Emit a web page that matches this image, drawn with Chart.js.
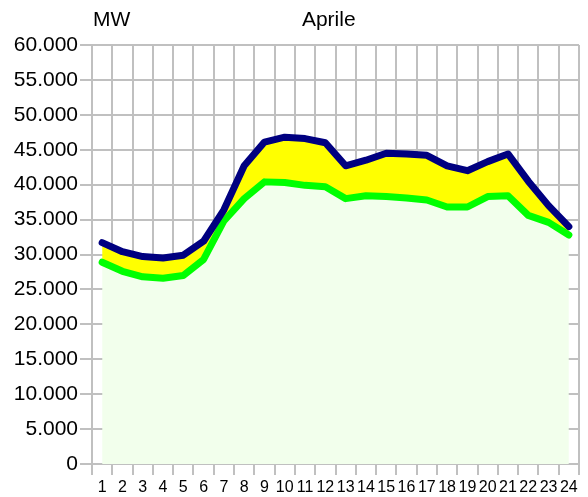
<!DOCTYPE html>
<html>
<head>
<meta charset="utf-8">
<script src="https://cdn.jsdelivr.net/npm/chart.js@4/dist/chart.umd.min.js"></script>
<style>
  html, body { margin: 0; padding: 0; background: #ffffff; }
  #wrap { width: 588px; height: 497px; position: relative; }
</style>
</head>
<body>
<div id="wrap"><canvas id="c" width="588" height="497"></canvas></div>
<script>
// Hours of the day (category labels)
const hours = ['1','2','3','4','5','6','7','8','9','10','11','12','13','14','15','16','17','18','19','20','21','22','23','24'];

// Upper series (navy line)
const upperMW = [31700, 30400, 29700, 29500, 29900, 31900, 36400, 42700, 46100, 46800, 46600, 46000,
                 42700, 43500, 44500, 44400, 44200, 42700, 42000, 43300, 44400, 40500, 37000, 34000];

// Lower series (green line)
const lowerMW = [28900, 27600, 26800, 26600, 27000, 29300, 34800, 38000, 40400, 40300, 39900, 39700,
                 38000, 38400, 38300, 38100, 37800, 36800, 36800, 38300, 38400, 35600, 34600, 32800];

// Chart texts
const unitLabel = 'MW';
const monthLabel = 'Aprile';

const FONT = "'Liberation Sans', Arial, sans-serif";

function fmtThousands(v) {
  return String(v).replace(/\B(?=(\d{3})+(?!\d))/g, '.');
}

const headerPlugin = {
  id: 'header',
  afterDraw(chart) {
    const ctx = chart.ctx;
    const a = chart.chartArea;
    ctx.save();
    ctx.fillStyle = '#000000';
    ctx.font = '21px ' + FONT;
    ctx.textBaseline = 'alphabetic';
    ctx.textAlign = 'left';
    ctx.fillText(unitLabel, a.left + 1, 26);
    ctx.fillText(monthLabel, a.left + (a.right - a.left) * 0.431, 26);
    ctx.restore();
  }
};

new Chart(document.getElementById('c'), {
  type: 'line',
  data: {
    labels: hours,
    datasets: [
      {
        label: 'upper',
        data: upperMW,
        borderColor: '#000080',
        backgroundColor: '#ffff00',
        borderWidth: 7,
        pointRadius: 0,
        tension: 0,
        fill: '+1',
        borderJoinStyle: 'round',
        borderCapStyle: 'round'
      },
      {
        label: 'lower',
        data: lowerMW,
        borderColor: '#00ff00',
        backgroundColor: '#f2ffec',
        borderWidth: 7,
        pointRadius: 0,
        tension: 0,
        fill: 'origin',
        borderJoinStyle: 'round',
        borderCapStyle: 'round'
      }
    ]
  },
  options: {
    responsive: false,
    animation: false,
    devicePixelRatio: 1,
    layout: { padding: { left: 0, right: 9, top: 45, bottom: 0 } },
    plugins: {
      legend: { display: false },
      tooltip: { enabled: false },
      title: { display: false },
      filler: { drawTime: 'beforeDatasetsDraw' }
    },
    scales: {
      x: {
        type: 'category',
        offset: true,
        grid: {
          offset: true,
          color: '#c0c0c0',
          lineWidth: 2,
          drawTicks: true,
          tickLength: 11,
          tickColor: '#c0c0c0'
        },
        border: { display: true, color: '#c0c0c0', width: 2 },
        ticks: {
          color: '#000000',
          font: { family: FONT, size: 16 },
          padding: 3,
          maxRotation: 0,
          autoSkip: false
        },
        afterFit(scale) { scale.height = 33; }
      },
      y: {
        min: 0,
        max: 60000,
        grid: {
          color: '#c0c0c0',
          lineWidth: 2,
          drawTicks: true,
          tickLength: 12,
          tickColor: '#c0c0c0'
        },
        border: { display: true, color: '#c0c0c0', width: 2 },
        ticks: {
          stepSize: 5000,
          color: '#000000',
          font: { family: FONT, size: 21 },
          padding: 2,
          callback: (v) => fmtThousands(v)
        },
        afterFit(scale) { scale.width = 92; }
      }
    }
  },
  plugins: [headerPlugin]
});
</script>
</body>
</html>
